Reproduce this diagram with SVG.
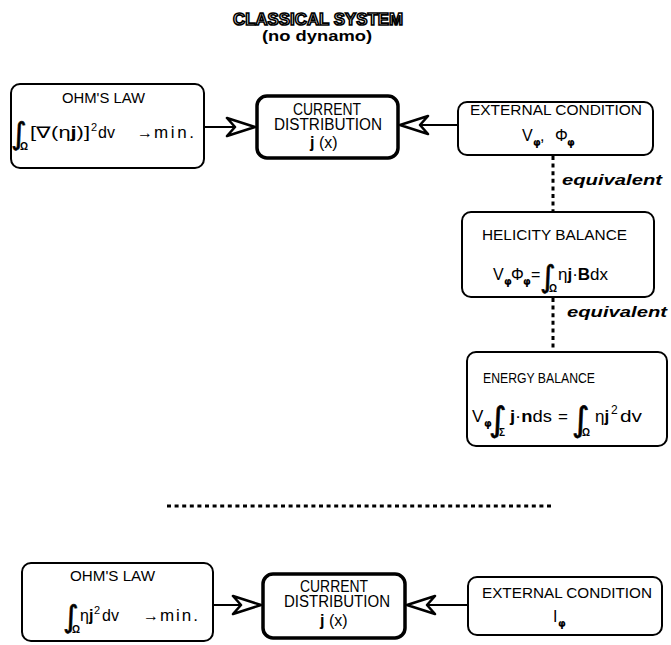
<svg xmlns="http://www.w3.org/2000/svg" width="671" height="645" viewBox="0 0 671 645">
<style>
.box{fill:#fff;stroke:#000;stroke-width:2}
.bold{fill:#fff;stroke:#000;stroke-width:3.5}
.t{font-family:"Liberation Sans",Arial,sans-serif;font-size:14px;fill:#000}
.c{font-family:"Liberation Sans",Arial,sans-serif;font-size:16px;fill:#000}
.f{font-family:"Liberation Sans",Arial,sans-serif;font-size:16px;fill:#000}
.int{font-family:"DejaVu Sans",sans-serif;font-size:30px;fill:#000;stroke:#000;stroke-width:0.6}
.sub{font-family:"Liberation Sans",Arial,sans-serif;font-size:10px;font-weight:bold;fill:#000}
.sup{font-family:"Liberation Sans",Arial,sans-serif;font-size:11px;fill:#000}
.ph{font-family:"DejaVu Sans",sans-serif;font-size:10px;font-weight:bold;fill:#000}
.eq{font-family:"Liberation Sans",Arial,sans-serif;font-size:15px;font-weight:bold;font-style:italic;fill:#000}
.dot{fill:none;stroke:#000;stroke-width:3;stroke-dasharray:4 3.6}
.ln{fill:none;stroke:#000;stroke-width:2}
</style>
<defs>
<marker id="ah" markerUnits="userSpaceOnUse" viewBox="-34 -14 38 28" refX="0" refY="0" markerWidth="38" markerHeight="28" orient="auto">
<path d="M-28,-9 L0,0 L-28,9 L-20,0 Z" fill="#fff" stroke="#000" stroke-width="2.6" stroke-linejoin="round"/>
</marker>
</defs>
<rect width="671" height="645" fill="#fff"/>

<g id="title">
<text x="233" y="25" textLength="170" lengthAdjust="spacingAndGlyphs" style="font-family:'Liberation Sans',Arial,sans-serif;font-size:17px;font-weight:bold;fill:#fff;stroke:#000;stroke-width:1.6">CLASSICAL SYSTEM</text>
<text x="262" y="41" textLength="110" lengthAdjust="spacingAndGlyphs" style="font-family:'Liberation Sans',Arial,sans-serif;font-size:15px;font-weight:bold;fill:#000">(no dynamo)</text>
</g>

<g id="connectors">
<line class="ln" x1="204" y1="127" x2="255" y2="127" marker-end="url(#ah)"/>
<line class="ln" x1="458" y1="125" x2="400" y2="125" marker-end="url(#ah)"/>
<line class="dot" x1="553" y1="156" x2="553" y2="212"/>
<line class="dot" x1="553" y1="298" x2="553" y2="352"/>
<line class="dot" x1="167" y1="506" x2="552" y2="506"/>
<line class="ln" x1="213" y1="605" x2="261" y2="605" marker-end="url(#ah)"/>
<line class="ln" x1="468" y1="605" x2="407" y2="605" marker-end="url(#ah)"/>
<text class="eq" x="562" y="185" textLength="100" lengthAdjust="spacingAndGlyphs">equivalent</text>
<text class="eq" x="567" y="317" textLength="100" lengthAdjust="spacingAndGlyphs">equivalent</text>
</g>

<g id="ohm1">
<rect class="box" x="11" y="84" width="193" height="84" rx="9"/>
<text class="t" x="62" y="103" textLength="83" lengthAdjust="spacingAndGlyphs">OHM'S LAW</text>
<text class="int" x="11" y="144">∫</text>
<text class="sub" x="20" y="150">Ω</text>
<text class="f" x="30" y="138" textLength="60" lengthAdjust="spacingAndGlyphs">[∇(η<tspan font-weight="bold">j</tspan>)]</text>
<text class="sup" x="91" y="131">2</text>
<text class="f" x="98" y="138">dv</text>
<text class="f" x="137" y="138">→</text>
<text class="f" x="154" y="138" textLength="40" lengthAdjust="spacing" style="font-size:17px">min.</text>
</g>

<g id="current1">
<rect class="bold" x="257" y="96" width="141" height="62" rx="10"/>
<text class="c" x="327" y="115" text-anchor="middle" textLength="68" lengthAdjust="spacingAndGlyphs">CURRENT</text>
<text class="c" x="328" y="130" text-anchor="middle" textLength="108" lengthAdjust="spacingAndGlyphs">DISTRIBUTION</text>
<text class="c" x="310" y="148"><tspan font-weight="bold">j</tspan> (x)</text>
</g>

<g id="external1">
<rect class="box" x="458" y="102" width="195" height="53" rx="9"/>
<text class="t" x="470" y="115" textLength="172" lengthAdjust="spacingAndGlyphs">EXTERNAL CONDITION</text>
<text class="f" x="522" y="141">V</text>
<text class="ph" x="533" y="146">φ</text>
<text class="f" x="540" y="141">,</text>
<text class="f" x="555" y="141">Φ</text>
<text class="ph" x="567" y="146">φ</text>
</g>

<g id="helicity">
<rect class="box" x="462" y="212" width="192" height="85" rx="9"/>
<text class="t" x="482" y="240" textLength="145" lengthAdjust="spacingAndGlyphs">HELICITY BALANCE</text>
<text class="f" x="493" y="280">V</text>
<text class="ph" x="504" y="285">φ</text>
<text class="f" x="511" y="280">Φ</text>
<text class="ph" x="523" y="285">φ</text>
<text class="f" x="531" y="280">=</text>
<text class="int" x="540" y="287">∫</text>
<text class="sub" x="549" y="292">Ω</text>
<text class="f" x="558" y="280" textLength="50" lengthAdjust="spacingAndGlyphs">η<tspan font-weight="bold">j</tspan>·<tspan font-weight="bold">B</tspan>dx</text>
</g>

<g id="energy">
<rect class="box" x="467" y="352" width="200" height="94" rx="9"/>
<text class="t" x="483" y="383" textLength="112" lengthAdjust="spacingAndGlyphs">ENERGY BALANCE</text>
<text class="f" x="472" y="422" style="font-size:17px">V</text>
<text class="ph" x="484" y="427">φ</text>
<text class="int" x="489" y="431" style="font-size:34px">∫</text>
<text class="sub" x="499" y="436">Σ</text>
<text class="f" x="510" y="422" textLength="42" lengthAdjust="spacingAndGlyphs" style="font-size:17px"><tspan font-weight="bold">j</tspan>·<tspan font-weight="bold">n</tspan>ds</text>
<text class="f" x="558" y="422" style="font-size:17px">=</text>
<text class="int" x="572" y="431" style="font-size:34px">∫</text>
<text class="sub" x="582" y="436">Ω</text>
<text class="f" x="595" y="422" style="font-size:17px">η<tspan font-weight="bold">j</tspan></text>
<text class="sup" x="611" y="414" style="font-size:12px">2</text>
<text class="f" x="620" y="422" textLength="22" lengthAdjust="spacingAndGlyphs" style="font-size:17px">dv</text>
</g>

<g id="ohm2">
<rect class="box" x="22" y="563" width="191" height="78" rx="9"/>
<text class="t" x="70" y="581" textLength="85" lengthAdjust="spacingAndGlyphs">OHM'S LAW</text>
<text class="int" x="63" y="627">∫</text>
<text class="sub" x="72" y="633">Ω</text>
<text class="f" x="80" y="621">η<tspan font-weight="bold">j</tspan></text>
<text class="sup" x="94" y="614">2</text>
<text class="f" x="102" y="621">dv</text>
<text class="f" x="143" y="621">→</text>
<text class="f" x="160" y="621" textLength="38" lengthAdjust="spacing" style="font-size:17px">min.</text>
</g>

<g id="current2">
<rect class="bold" x="263" y="574" width="142" height="64" rx="10"/>
<text class="c" x="334" y="592" text-anchor="middle" textLength="68" lengthAdjust="spacingAndGlyphs">CURRENT</text>
<text class="c" x="337" y="607" text-anchor="middle" textLength="106" lengthAdjust="spacingAndGlyphs">DISTRIBUTION</text>
<text class="c" x="320" y="626"><tspan font-weight="bold">j</tspan> (x)</text>
</g>

<g id="external2">
<rect class="box" x="468" y="577" width="194" height="58" rx="9"/>
<text class="t" x="482" y="598" textLength="170" lengthAdjust="spacingAndGlyphs">EXTERNAL CONDITION</text>
<text class="f" x="553" y="622">I</text>
<text class="ph" x="558" y="627">φ</text>
</g>
</svg>
